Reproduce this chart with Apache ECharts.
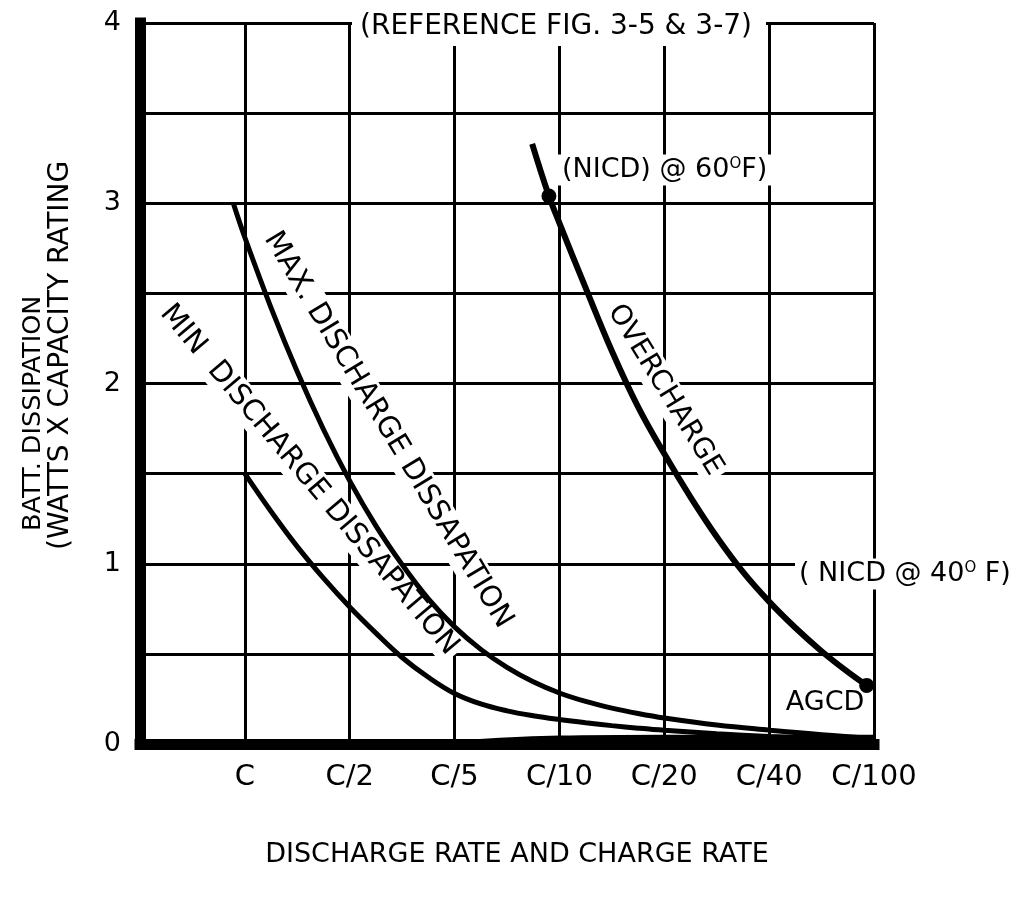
<!DOCTYPE html>
<html>
<head>
<meta charset="utf-8">
<script src="https://cdn.jsdelivr.net/npm/echarts@6/dist/echarts.min.js"></script>
<style>
  html, body { margin: 0; padding: 0; background: #ffffff; }
  #chart { width: 1028px; height: 901px; }
</style>
</head>
<body>
<div id="chart"></div>
<script>
// Rate categories on the horizontal axis (position 1..7, the y axis sits at 0)
const rateLabels = ['C', 'C/2', 'C/5', 'C/10', 'C/20', 'C/40', 'C/100'];

// Battery dissipation (watts x capacity rating) vs. rate position
const maxDischarge = [[0.89, 3.0], [1.0, 2.81], [1.25, 2.42], [1.5, 2.065], [1.75, 1.745], [2.0, 1.46],
                      [2.25, 1.21], [2.5, 0.995], [2.75, 0.805], [3.0, 0.65], [3.25, 0.525], [3.5, 0.425],
                      [3.75, 0.345], [4.0, 0.283], [4.25, 0.236], [4.5, 0.199], [4.75, 0.169], [5.0, 0.144],
                      [5.5, 0.105], [6.0, 0.077], [6.5, 0.052], [7.0, 0.032]];
const minDischarge = [[1.0, 1.5], [1.25, 1.29], [1.5, 1.095], [1.75, 0.92], [2.0, 0.76], [2.25, 0.615],
                      [2.5, 0.48], [2.75, 0.37], [3.0, 0.28], [3.25, 0.222], [3.5, 0.184], [3.75, 0.157],
                      [4.0, 0.136], [4.25, 0.118], [4.5, 0.102], [4.75, 0.088], [5.0, 0.076], [5.5, 0.057],
                      [6.0, 0.042], [6.5, 0.03], [7.0, 0.02]];
const overcharge = [[3.74, 3.33], [3.9, 3.04], [4.0, 2.89], [4.25, 2.53], [4.5, 2.18], [4.75, 1.87],
                    [5.0, 1.61], [5.25, 1.37], [5.5, 1.15], [5.75, 0.955], [6.0, 0.79], [6.25, 0.645],
                    [6.5, 0.515], [6.75, 0.40], [6.93, 0.325]];
const agcd = [[3.2, 0.01], [4.0, 0.03], [5.0, 0.035], [6.0, 0.035], [7.0, 0.035]];
// NiCd reference temperatures (60 F and 40 F)
const nicdPoints = [[3.9, 3.04], [6.93, 0.325]];

const FONT = '"DejaVu Sans", "Liberation Sans", sans-serif';
const INK = '#000000';
const deg = Math.PI / 180;

// Free-standing annotation text; a white box breaks the grid lines behind it
function note(text, x, y, size, rotationDeg, align, rich) {
  return {
    type: 'text',
    x: x, y: y,
    rotation: (rotationDeg || 0) * deg,
    z: 1,
    silent: true,
    style: {
      text: text,
      fontSize: size,
      fontFamily: FONT,
      fill: INK,
      align: align || 'center',
      verticalAlign: 'middle',
      backgroundColor: '#ffffff',
      padding: [2, 4, 2, 4],
      rich: rich
    }
  };
}

const supRich = { sup: { fontSize: 15, fontFamily: FONT, fill: INK, verticalAlign: 'top' } };

function curve(name, data, width) {
  return {
    name: name,
    type: 'line',
    data: data,
    symbol: 'none',
    smooth: 0.4,
    silent: true,
    z: 3,
    lineStyle: { color: INK, width: width }
  };
}

const chart = echarts.init(document.getElementById('chart'), null, { renderer: 'canvas' });

chart.setOption({
  animation: false,
  backgroundColor: '#ffffff',
  title: {
    text: '(REFERENCE FIG. 3-5 & 3-7)',
    left: 352,
    top: 11,
    padding: [2, 14, 5, 8],
    backgroundColor: '#ffffff',
    textStyle: { fontSize: 28, fontWeight: 'normal', fontFamily: FONT, color: INK }
  },
  grid: { left: 140, right: 154, top: 23, bottom: 157, containLabel: false, outerBoundsMode: 'none' },
  xAxis: {
    type: 'value',
    min: 0,
    max: 7,
    interval: 1,
    axisLine: { show: true, onZero: false, lineStyle: { color: INK, width: 11, cap: 'square' } },
    axisTick: { show: false },
    axisLabel: {
      formatter: v => rateLabels[v - 1] || '',
      fontSize: 29,
      fontFamily: FONT,
      color: INK,
      margin: 19
    },
    splitLine: { show: true, lineStyle: { color: INK, width: 3 } },
    name: 'DISCHARGE RATE AND CHARGE RATE',
    nameLocation: 'middle',
    nameGap: 97,
    nameTextStyle: { fontSize: 27, fontFamily: FONT, color: INK, padding: [0, 0, 0, 20] }
  },
  yAxis: {
    type: 'value',
    min: 0,
    max: 4,
    interval: 0.5,
    axisLine: { show: true, onZero: false, lineStyle: { color: INK, width: 11, cap: 'square' } },
    axisTick: { show: false },
    axisLabel: {
      formatter: v => (Number.isInteger(v) ? String(v) : ''),
      fontSize: 27,
      fontFamily: FONT,
      color: INK,
      margin: 19
    },
    splitLine: { show: true, lineStyle: { color: INK, width: 3 } }
  },
  series: [
    curve('MAX. DISCHARGE DISSAPATION', maxDischarge, 5),
    curve('MIN DISCHARGE DISSAPATION', minDischarge, 5),
    curve('OVERCHARGE', overcharge, 6),
    curve('AGCD', agcd, 6),
    {
      name: 'NICD',
      type: 'scatter',
      data: nicdPoints,
      symbol: 'circle',
      symbolSize: 15,
      silent: true,
      z: 4,
      itemStyle: { color: INK, opacity: 1 }
    }
  ],
  graphic: {
    elements: [
      note('BATT. DISSIPATION', 33, 535, 25.5, 90, 'left'),
      note('(WATTS X CAPACITY RATING', 61, 554, 28, 90, 'left'),
      note('MAX. DISCHARGE DISSAPATION', 388, 430, 29, -59),
      note('MIN  DISCHARGE DISSAPATION', 309, 480, 29, -50),
      note('OVERCHARGE', 665, 390, 28, -58.4),
      note('(NICD) @ 60{sup|O}F)', 558, 170, 27, 0, 'left', supRich),
      note('( NICD @ 40{sup|O} F)', 795, 574, 27, 0, 'left', supRich),
      note('AGCD', 825, 703, 27, 0)
    ]
  }
});
</script>
</body>
</html>
